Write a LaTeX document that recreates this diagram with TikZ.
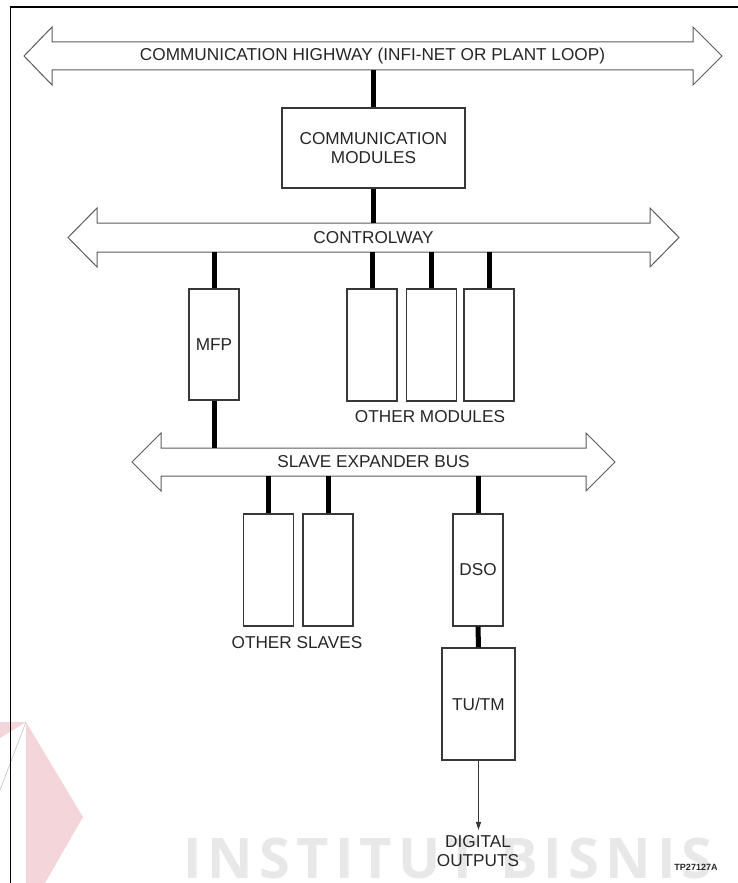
\documentclass[tikz,border=0pt]{standalone}
\usepackage{fontspec}
\setmainfont{Liberation Sans}
\newfontfamily\markfont{Open Sans}
\usetikzlibrary{arrows.meta}

\definecolor{ink}{HTML}{262626}
\definecolor{edge}{HTML}{383838}
\definecolor{busedge}{HTML}{5C5C5C}
\definecolor{markgray}{HTML}{E8E8E8}
\definecolor{markpink}{HTML}{F3D5DA}

\tikzset{
  lbl/.style={font=\fontsize{17.2}{19.5}\selectfont, text=ink, inner sep=0pt, align=center},
  module/.style={lbl, draw=edge, line width=1.2pt, fill=white,
                 minimum width=50pt, minimum height=112pt},
  busbody/.style={draw=busedge, line width=1pt, fill=white, line join=miter},
  shaft/.style={lbl, draw=none},
  link/.style={line width=5pt, draw=black},
  outlink/.style={line width=0.9pt, draw=edge,
                  -{Triangle[length=8pt,width=5pt]}},
  frame/.style={line width=1.3pt, draw=black},
  tag/.style={font=\fontsize{9}{10}\selectfont\bfseries, text=ink, inner sep=0pt}
}

% Double-headed bus: #1 name, #2 centre y, #3 left tip, #4 left head base,
% #5 right head base, #6 right tip, #7 shaft half height, #8 head half height, #9 label
\newcommand\busarrow[9]{%
  \draw[busbody] (#3,#2) -- (#4,#2-#8) -- (#4,#2-#7) -- (#5,#2-#7) -- (#5,#2-#8)
    -- (#6,#2) -- (#5,#2+#8) -- (#5,#2+#7) -- (#4,#2+#7) -- (#4,#2+#8) -- cycle;
  \node[shaft, minimum width={#5-#4}, minimum height={2*#7}] (#1) at ({(#4+#5)/2},#2) {#9};
}

\begin{document}
\begin{tikzpicture}[x=1pt,y=-1pt]
\useasboundingbox (0,0) rectangle (738,883);

% faint background mark
\fill[markpink] (26,722) -- (83,817) -- (45,883) -- (26,883) -- cycle;
\fill[markpink] (0,722) -- (26,722) -- (0,738) -- cycle;
\draw[line width=0.6pt, draw=black!25] (26,722) -- (0,790);
\node[anchor=base west, text=markgray, inner sep=0pt,
      font=\markfont\bfseries\fontsize{56}{60}\selectfont\addfontfeature{LetterSpace=11}]
  (mark) at (183,878) {INSTITUT BISNIS};

% page frame
\draw[frame] (738,7) -- (10.5,7) -- (10.5,883);

% buses
\busarrow{hwy}{56}{24}{52}{693}{722}{14}{29}{COMMUNICATION HIGHWAY (INFI-NET OR PLANT LOOP)}
\busarrow{ctrl}{237.5}{68}{97}{650}{679}{14.5}{29.5}{CONTROLWAY}
\busarrow{slave}{462}{132}{161}{586}{615}{14}{29}{SLAVE EXPANDER BUS}

% modules
\node[module, minimum width=183pt, minimum height=80pt] (comm) at (373.5,148)
  {COMMUNICATION\\MODULES};
\node[module, minimum height=111pt] (mfp) at (214,344.5) {MFP};
\node[module] (om1) at (372,345) {};
\node[module] (om2) at (431.5,345) {};
\node[module] (om3) at (489,345) {};
\node[lbl] (omlbl) at (430,417) {OTHER MODULES};

\node[module] (os1) at (268.5,570) {};
\node[module] (os2) at (328,570) {};
\node[lbl] (oslbl) at (297,643) {OTHER SLAVES};
\node[module] (dso) at (478,570) {DSO};
\node[module, minimum width=73pt] (tutm) at (478.5,704) {TU/TM};
\node[lbl, inner sep=5pt] (out) at (478,851) {DIGITAL\\OUTPUTS};
\node[tag] (code) at (696,867) {TP27127A};

% connections
\draw[link] (comm.north |- hwy.south) -- (comm.north);
\draw[link] (comm.south) -- (comm.south |- ctrl.north);
\draw[link] (mfp.north) -- (mfp.north |- ctrl.south);
\draw[link] (mfp.south) -- (mfp.south |- slave.north);
\foreach \m in {om1,om2,om3}
  \draw[link] (\m.north) -- (\m.north |- ctrl.south);
\foreach \m in {os1,os2,dso}
  \draw[link] (\m.north) -- (\m.north |- slave.south);
\draw[link] (dso.south) -- (tutm.north);
\draw[outlink] (tutm.south) -- (tutm.south |- out.north);
\end{tikzpicture}
\end{document}
